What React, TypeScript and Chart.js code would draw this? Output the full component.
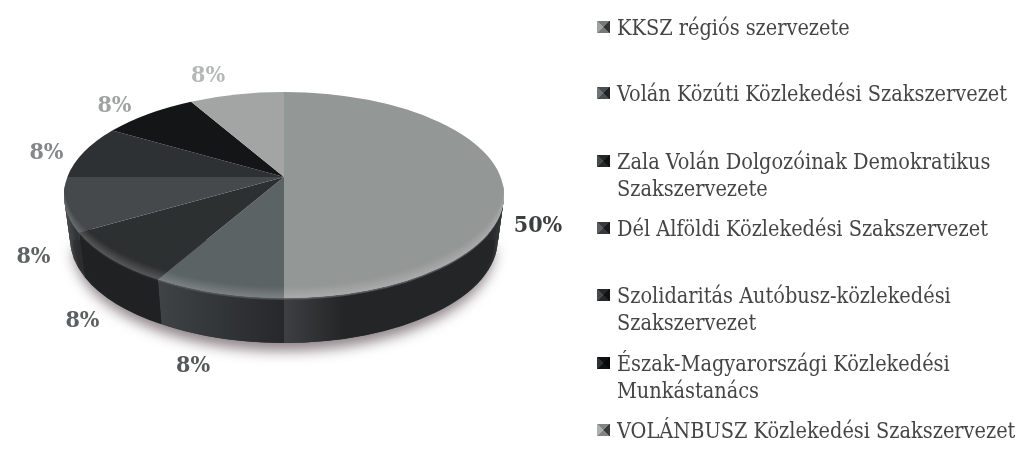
import React, { useEffect, useRef } from "react";
import { Chart, registerables } from "chart.js";

Chart.register(...registerables);

const categories = [
  "KKSZ régiós szervezete",
  "Volán Közúti Közlekedési Szakszervezet",
  "Zala Volán Dolgozóinak Demokratikus Szakszervezete",
  "Dél Alföldi Közlekedési Szakszervezet",
  "Szolidaritás Autóbusz-közlekedési Szakszervezet",
  "Észak-Magyarországi Közlekedési Munkástanács",
  "VOLÁNBUSZ Közlekedési Szakszervezet",
];
const values = [6, 1, 1, 1, 1, 1, 1];

const faceColors = ["#939796", "#5c6365", "#2d3031", "#45494c", "#2e3133", "#131516", "#a2a5a4"];
const sideLeft = ["#3d4042", "#3f4345", "#1f2122", "#3c4042", "#2a2c2e", "#111213", "#888888"];
const sideRight = ["#232526", "#26282a", "#1f2122", "#2a2c2e", "#2a2c2e", "#111213", "#888888"];
const labelColors = ["#3c3e3f", "#555758", "#5c5e5f", "#5f6162", "#858788", "#a0a2a2", "#b6b8b8"];
const labelOffsets = [[34, 31], [-34, 72], [-46, 53], [-38, 35], [-25, -15], [-14, -16], [-19, -19]];
const legendTops = [14, 80, 148, 215, 282, 350, 417];
const markerTops = [21, 87, 155, 222, 289, 357, 424];

const SERIF = '"DejaVu Serif Condensed", "DejaVu Serif", serif';
const RY = 103;
const FACE_CY = 195;
const APEX_Y = 177;
const DEPTH = 45;
const BEVEL = 13;

const hex = (c: string) => [1, 3, 5].map((i) => parseInt(c.slice(i, i + 2), 16));
const mix = (a: string, b: string, t: number) => {
  const A = hex(a);
  const B = hex(b);
  return `rgb(${A.map((v, i) => Math.round(v + (B[i] - v) * t)).join(",")})`;
};
const toHex = (rgb: string) =>
  "#" + rgb.match(/\d+/g)!.map((v) => Number(v).toString(16).padStart(2, "0")).join("");
// perspective warp of the rim: the apex sits above the centre of the ellipse
const warp = (phi: number) => {
  const b = phi - Math.PI / 2;
  return Math.PI / 2 + b + 0.175 * Math.sin(b);
};

const pie3d = {
  id: "pie3d",
  beforeDatasetDraw() {
    return false;
  },
  beforeDatasetsDraw(chart: any) {
    const ctx = chart.ctx as CanvasRenderingContext2D;
    const arcs = chart.getDatasetMeta(0).data as any[];
    const cx = arcs[0].x;
    const rx = arcs[0].outerRadius;
    const rxAt = (dy: number) => (dy > 0 ? rx - dy * 0.14 : rx);
    const wedge = (arc: any) => {
      ctx.beginPath();
      ctx.moveTo(cx, APEX_Y);
      ctx.ellipse(cx, FACE_CY, rx, RY, 0, warp(arc.startAngle), warp(arc.endAngle));
      ctx.closePath();
    };

    ctx.save();
    // soft shadow below the pie
    ctx.save();
    ctx.shadowColor = "rgba(105,92,98,0.75)";
    ctx.shadowBlur = 13;
    ctx.shadowOffsetY = 8;
    ctx.fillStyle = "#2a2c2e";
    ctx.beginPath();
    ctx.ellipse(cx, FACE_CY + DEPTH, rxAt(DEPTH) - 3, RY, 0, 0, Math.PI);
    ctx.closePath();
    ctx.fill();
    ctx.restore();

    // side wall, from deep to shallow
    arcs.forEach((arc, i) => {
      const a0 = Math.max(0, warp(arc.startAngle));
      const a1 = Math.min(Math.PI, warp(arc.endAngle));
      if (a1 <= a0) return;
      const xa = cx + rx * Math.cos(a1);
      const xb = cx + rx * Math.cos(a0);
      const grad = ctx.createLinearGradient(xa, 0, i === 0 ? xa + 60 : xb, 0);
      grad.addColorStop(0, sideLeft[i]);
      grad.addColorStop(1, sideRight[i]);
      for (let dy = DEPTH; dy >= 0; dy--) {
        ctx.beginPath();
        ctx.ellipse(cx, FACE_CY + dy, rxAt(dy), RY, 0, a0, a1);
        ctx.ellipse(cx, FACE_CY + dy - 2, rxAt(dy - 2), RY, 0, a1, a0, true);
        ctx.closePath();
        ctx.fillStyle = dy < 3 ? mix(mix2hex(faceColors[i]), sideLeft[i], (dy + 3) / 6) : grad;
        ctx.fill();
      }
    });

    // faces with the bevel along the front of the rim
    arcs.forEach((arc, i) => {
      wedge(arc);
      ctx.fillStyle = faceColors[i];
      ctx.fill();
      const a0 = Math.max(0, warp(arc.startAngle) - 0.25);
      const a1 = Math.min(Math.PI, warp(arc.endAngle) + 0.25);
      if (a1 <= a0) return;
      ctx.save();
      wedge(arc);
      ctx.clip();
      const highlight = toHex(mix(faceColors[i], "#ffffff", 0.22));
      for (let dy = 0; dy >= -BEVEL; dy--) {
        ctx.beginPath();
        ctx.ellipse(cx, FACE_CY + dy + 2, rx, RY, 0, a0, a1);
        ctx.ellipse(cx, FACE_CY + dy - 2, rx, RY, 0, a1, a0, true);
        ctx.closePath();
        ctx.fillStyle = mix(faceColors[i], highlight, (dy + BEVEL) / BEVEL);
        ctx.fill();
      }
      ctx.restore();
    });
    ctx.restore();
  },
  afterDatasetsDraw(chart: any) {
    const ctx = chart.ctx as CanvasRenderingContext2D;
    const arcs = chart.getDatasetMeta(0).data as any[];
    const total = values.reduce((s, v) => s + v, 0);
    ctx.save();
    ctx.font = `bold 23px ${SERIF}`;
    ctx.textAlign = "center";
    ctx.textBaseline = "middle";
    arcs.forEach((arc, i) => {
      const mid = (arc.startAngle + arc.endAngle) / 2;
      const x = arc.x + arc.outerRadius * Math.cos(mid) + labelOffsets[i][0];
      const y = FACE_CY + RY * Math.sin(mid) + labelOffsets[i][1];
      ctx.fillStyle = labelColors[i];
      ctx.fillText(`${Math.round((values[i] / total) * 100)}%`, x, y);
    });
    ctx.restore();
  },
};

function mix2hex(c: string) {
  return toHex(mix(c, "#ffffff", 0.22));
}

export default function App() {
  const ref = useRef<HTMLCanvasElement>(null);
  useEffect(() => {
    const chart = new Chart(ref.current!, {
      type: "pie",
      data: {
        labels: categories,
        datasets: [{ data: values, backgroundColor: faceColors, borderWidth: 0 }],
      },
      options: {
        animation: false,
        responsive: false,
        layout: { padding: { left: 64, right: 519, top: 7, bottom: 7 } },
        plugins: { legend: { display: false }, tooltip: { enabled: false } },
      },
      plugins: [pie3d],
    } as any);
    return () => chart.destroy();
  }, []);

  const shade = (i: number, t: number) =>
    t > 0 ? mix(faceColors[i], "#ffffff", t) : mix(faceColors[i], "#000000", -t);

  return (
    <div style={{ position: "fixed", left: 0, top: 0, width: 1023, height: 454, background: "#fff", overflow: "hidden" }}>
      <canvas ref={ref} width={1023} height={454} style={{ position: "absolute", left: 0, top: 0 }} />
      {categories.map((c, i) => (
        <React.Fragment key={c}>
          <span
            style={{
              position: "absolute",
              left: 597,
              top: markerTops[i],
              width: 13,
              height: 12,
              background: `conic-gradient(from 45deg, ${shade(i, -0.65)} 0 25%, ${shade(i, -0.2)} 0 50%, ${shade(i, 0.12)} 0 75%, ${shade(i, -0.2)} 0)`,
            }}
          />
          <div
            style={{
              position: "absolute",
              left: 617,
              top: legendTops[i],
              width: 400,
              fontFamily: SERIF,
              fontSize: 21.5,
              lineHeight: "27px",
              color: "#454545",
            }}
          >
            {c}
          </div>
        </React.Fragment>
      ))}
    </div>
  );
}
